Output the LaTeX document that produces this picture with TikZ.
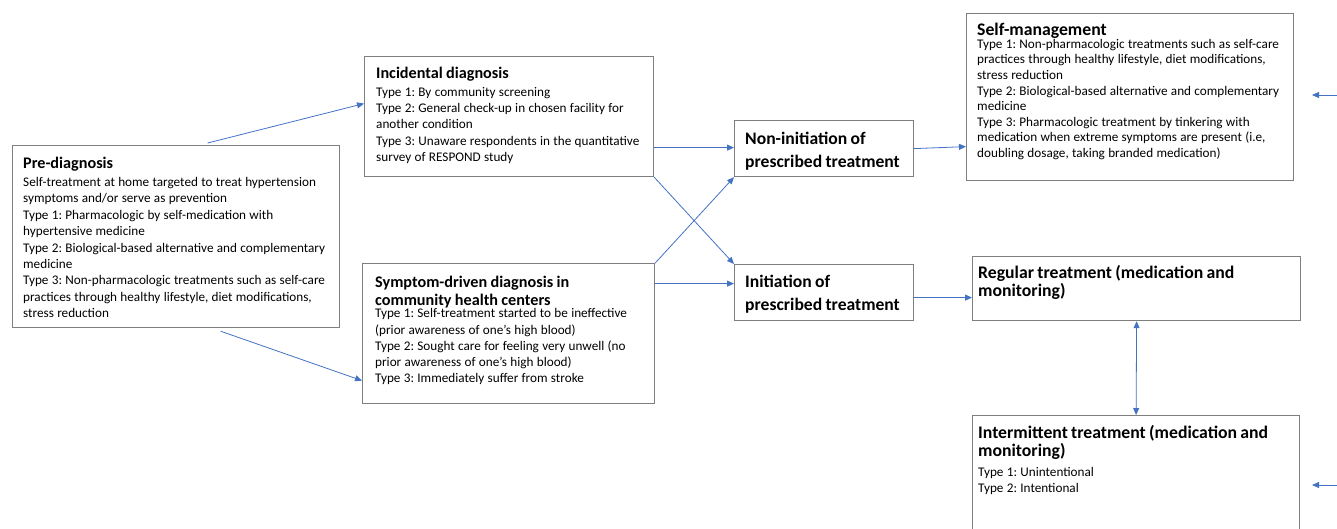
\documentclass[tikz,border=0pt]{standalone}
\usepackage{fontspec}
\setmainfont{Carlito}
\usetikzlibrary{arrows.meta,calc}
\definecolor{boxgray}{HTML}{7F7F7F}
\definecolor{arrblue}{HTML}{4472C4}
% heading: size, gap after, text
\newcommand{\hd}[3]{{\fontsize{#1}{18}\selectfont\bfseries #3\par}\vspace{#2}}
\newcommand{\hdB}[1]{{\fontsize{17.6}{22.5}\selectfont\bfseries #1\par}}
\newcommand{\bdy}[1]{\fontsize{13.2}{#1}\selectfont}
\frenchspacing
\tikzset{
  box/.style={draw=boxgray, line width=1.2pt, anchor=north west, inner sep=0pt, fill=white},
  txt/.style={anchor=north west, inner sep=0pt, align=left, text width=#1},
  arr/.style={draw=arrblue, line width=0.8pt, -{Triangle[length=7pt,width=6pt]}},
  darr/.style={draw=arrblue, line width=0.8pt, {Triangle[length=7pt,width=6pt]}-{Triangle[length=7pt,width=6pt]}}
}
\begin{document}
\begin{tikzpicture}[x=1pt,y=-1pt]
\useasboundingbox[fill=white] (0,0) rectangle (1337,528);

% boxes
\node[box, minimum width=327pt, minimum height=182pt] (pre) at (12,145) {};
\node[box, minimum width=289pt, minimum height=120pt] (inc) at (364,56) {};
\node[box, minimum width=292pt, minimum height=140pt] (sym) at (362,263) {};
\node[box, minimum width=179pt, minimum height=56pt] (non) at (734,120) {};
\node[box, minimum width=179pt, minimum height=56pt] (ini) at (734,264) {};
\node[box, minimum width=327pt, minimum height=167pt] (self) at (966,13) {};
\node[box, minimum width=328pt, minimum height=64pt] (reg) at (972,256) {};
\node[box, minimum width=327pt, minimum height=140pt] (int) at (972,415) {};

% texts
\node[txt=330pt] (pretxt) at (23,157) {\hd{16.2}{1.5pt}{Pre-diagnosis}\bdy{16.4}
Self-treatment at home targeted to treat hypertension\newline
symptoms and/or serve as prevention\newline
Type 1: Pharmacologic by self-medication with\newline
hypertensive medicine\newline
Type 2: Biological-based alternative and complementary\newline
medicine\newline
Type 3: Non-pharmacologic treatments such as self-care\newline
practices through healthy lifestyle, diet modifications,\newline
stress reduction\par};

\node[txt=300pt] (inctxt) at (376,67) {\hd{16.2}{1.5pt}{Incidental diagnosis}\bdy{16.25}
Type 1: By community screening\newline
Type 2: General check-up in chosen facility for\newline
another condition\newline
Type 3: Unaware respondents in the quantitative\newline
survey of RESPOND study\par};

\node[txt=300pt] (symtxt) at (375,275.5) {\hd{16.2}{-3.5pt}{Symptom-driven diagnosis in\newline community health centers}\bdy{16.25}
Type 1: Self-treatment started to be ineffective\newline
(prior awareness of one’s high blood)\newline
Type 2: Sought care for feeling very unwell (no\newline
prior awareness of one’s high blood)\newline
Type 3: Immediately suffer from stroke\par};

\node[txt=180pt] (nontxt) at (745,132) {\hdB{Non-initiation of\newline prescribed treatment}};
\node[txt=180pt] (initxt) at (745,275) {\hdB{Initiation of\newline prescribed treatment}};

\node[txt=340pt] (selftxt) at (977,22.5) {\hd{17.7}{-2.5pt}{Self-management}\bdy{15.6}
Type 1: Non-pharmacologic treatments such as self-care\newline
practices through healthy lifestyle, diet modifications,\newline
stress reduction\newline
Type 2: Biological-based alternative and complementary\newline
medicine\newline
Type 3: Pharmacologic treatment by tinkering with\newline
medication when extreme symptoms are present (i.e,\newline
doubling dosage, taking branded medication)\par};

\node[txt=340pt] (regtxt) at (978,265) {\hd{17.7}{0pt}{Regular treatment (medication and\newline monitoring)}};

\node[txt=340pt] (inttxt) at (978,425) {\hd{17.7}{4.5pt}{Intermittent treatment (medication and\newline monitoring)}\bdy{16}
Type 1: Unintentional\newline
Type 2: Intentional\par};

% connectors
\draw[arr] ([xshift=31.5pt,yshift=2pt]pre.north) -- ([yshift=13pt]inc.west);
\draw[arr] ([xshift=44.5pt,yshift=-3pt]pre.south) -- ([yshift=-47pt]sym.west);
\draw[arr] ([yshift=1pt]non.west -| inc.east) -- ([yshift=1pt]non.west);
\draw[arr] (inc.south east) -- (ini.north west);
\draw[arr] (sym.north east) -- (non.south west);
\draw[arr] ([yshift=9pt]ini.west -| sym.east) -- ([yshift=9pt]ini.west);
\draw[arr] ([yshift=0pt]non.east) -- ([yshift=-49.5pt]self.west);
\draw[arr] ([yshift=-5pt]ini.east) -- ([yshift=-5pt]ini.east -| reg.west);
\draw[darr] (reg.south) -- (int.north);

\coordinate (r1s) at (1338,95);
\coordinate (r1e) at (1312,95);
\coordinate (r2s) at (1338,485);
\coordinate (r2e) at (1312,485);
\draw[arr] (r1s) -- (r1e);
\draw[arr] (r2s) -- (r2e);
\end{tikzpicture}
\end{document}
